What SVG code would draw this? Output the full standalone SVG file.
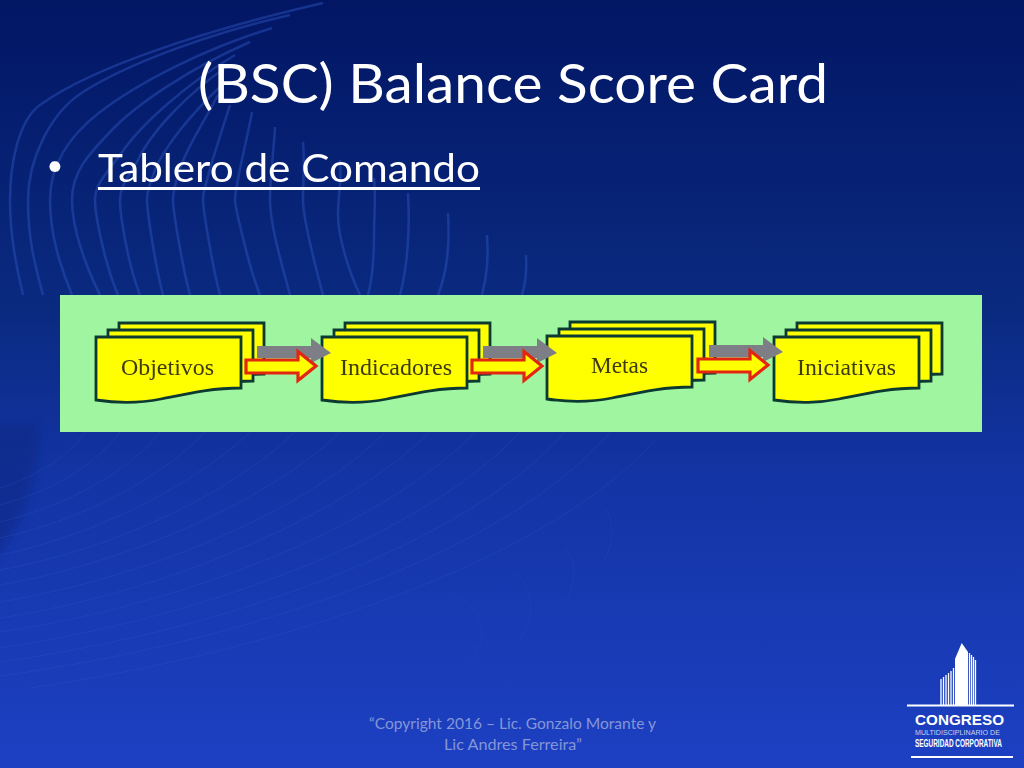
<svg xmlns="http://www.w3.org/2000/svg" xmlns:xlink="http://www.w3.org/1999/xlink" width="1024" height="768" viewBox="0 0 1024 768">
<style>
.strand{fill:none;stroke:#2a4fb8;stroke-width:2.6;opacity:.5}
.fan{fill:none;stroke:#3a62cf;stroke-width:1;opacity:.2}
.arc{fill:none;stroke:#3a62cf;stroke-width:1;opacity:.14}
.sans{font-family:Lato,"Open Sans",sans-serif;fill:#fff}
.lbl{font-family:"Liberation Serif",serif;font-size:23.5px;fill:#3d3a12}
.card{fill:#ff0;stroke:#0c3a33;stroke-width:2.8;stroke-linejoin:miter}
.grey{fill:#7e7e86}
.red{fill:#ff0;stroke:#e2260f;stroke-width:3.2;stroke-linejoin:miter}
.logo{font-family:"Liberation Sans",sans-serif;fill:#fff}
.rib{stroke:#fff;stroke-width:1.3}
</style>
<defs>
<linearGradient id="bg" x1="0" y1="0" x2="0" y2="1">
<stop offset="0" stop-color="#021664"/>
<stop offset=".4" stop-color="#0a2a80"/>
<stop offset=".62" stop-color="#1334a4"/>
<stop offset="1" stop-color="#1d40c3"/>
</linearGradient>
<filter id="soft" filterUnits="userSpaceOnUse" x="-20" y="-20" width="1064" height="808"><feGaussianBlur stdDeviation=".7"/></filter>
<filter id="softer" filterUnits="userSpaceOnUse" x="-60" y="380" width="160" height="240"><feGaussianBlur stdDeviation="5"/></filter>
<path id="sheet" class="card" d="M0,0H145V51C115,51 90,57 65,62C45,66 20,66 0,63Z"/>
<g id="stack">
<use xlink:href="#sheet" href="#sheet" x="23" y="-14"/>
<use xlink:href="#sheet" href="#sheet" x="12" y="-7"/>
<use xlink:href="#sheet" href="#sheet"/>
</g>
<g id="flow">
<path class="grey" d="M257,346H311V338L331,353L311,363V358H257Z"/>
<path class="red" d="M246,360H298V351.5L316,366L298,380.5V373H246Z"/>
</g>
</defs>
<rect width="1024" height="768" fill="url(#bg)"/>
<path d="M-20,425H38C38,480 25,530 -20,575Z" fill="#0a2680" opacity=".5" filter="url(#softer)"/>
<g id="background-strands" filter="url(#soft)">
<path class="strand" d="M323,3C215,28 95,65 40,105C18,121 10,165 10,200S16,265 23,295"/>
<path class="strand" d="M290,15C215,32 130,62 83,92C50,113 28,160 28,200S35,265 43,295"/>
<path class="strand" d="M272,28C200,50 135,85 100,112C70,135 50,165 50,200S60,265 72,295"/>
<path class="strand" d="M250,42C190,68 135,105 110,132C88,155 72,172 72,200S85,265 100,295"/>
<path class="strand" d="M235,55C185,85 140,125 120,155C105,175 95,185 95,200S105,265 118,295"/>
<path class="strand" d="M225,68C190,92 152,130 138,160C130,175 120,185 120,200S128,265 140,295"/>
<path class="strand" d="M222,85C195,110 165,145 155,170C151,180 147,190 147,200S155,265 163,295"/>
<path class="strand" d="M218,95C205,120 185,150 178,175C176,183 173,190 173,200S182,265 190,295"/>
<path class="strand" d="M230,105C222,130 212,160 207,180C205,188 203,192 203,200S212,265 220,295"/>
<path class="strand" d="M252,112C248,135 240,165 237,185C236,190 235,195 235,200S248,265 260,295"/>
<path class="strand" d="M275,127C274,150 270,175 270,200S282,265 290,295"/>
<path class="strand" d="M303,142C305,165 303,180 303,200S315,265 323,295"/>
<path class="strand" d="M340,160C342,180 338,195 338,215S348,270 360,295" opacity=".4"/>
<path class="strand" d="M374,178C376,200 374,215 374,235S372,280 368,295" opacity=".4"/>
<path class="strand" d="M408,193C410,225 408,265 400,295" opacity=".35"/>
<path class="strand" d="M448,213C450,245 446,275 438,295" opacity=".3"/>
<path class="strand" d="M487,235C489,260 486,280 482,295" opacity=".25"/>
<path class="strand" d="M526,255C527,270 525,285 522,295" opacity=".2"/>
</g>
<g id="background-fan" filter="url(#soft)">
<path class="fan" d="M85,432C70,455 40,475 0,488"/>
<path class="fan" d="M120,432C95,465 55,490 0,505"/>
<path class="fan" d="M160,432C130,470 70,505 0,522"/>
<path class="fan" d="M205,432C165,475 85,520 0,538"/>
<path class="fan" d="M250,432C200,480 100,535 0,555"/>
<path class="fan" d="M295,432C235,490 120,548 0,570"/>
<path class="fan" d="M340,432C275,495 140,560 0,585"/>
<path class="fan" d="M385,432C315,505 160,575 0,602"/>
<path class="fan" d="M430,432C350,510 180,590 0,618"/>
<path class="fan" d="M475,432C390,520 200,602 0,632"/>
<path class="fan" d="M520,432C430,530 220,615 0,648"/>
<path class="fan" d="M565,432C470,540 240,628 0,662"/>
<path class="fan" d="M610,432C510,550 260,640 0,676"/>
<path class="fan" d="M655,440C550,560 280,652 30,688"/>
<path class="arc" d="M607,510C616,530 612,548 603,562"/>
<path class="arc" d="M565,548C578,562 576,582 565,602"/>
<path class="arc" d="M515,572C535,590 535,615 520,640"/>
<path class="arc" d="M450,592C488,610 488,640 470,662"/>
</g>
<rect id="panel" x="60" y="295" width="922" height="137" fill="#a0f6a0"/>
<g id="title"><text class="sans" x="198" y="103" font-size="55" textLength="630" lengthAdjust="spacingAndGlyphs">(BSC) Balance Score Card</text></g>
<g id="bullet">
<text class="sans" x="46.5" y="175" font-size="29">•</text>
<text class="sans" x="98" y="182" font-size="39" textLength="382" lengthAdjust="spacingAndGlyphs">Tablero de Comando</text>
<rect x="98" y="187" width="382" height="3" fill="#fff"/>
</g>
<g id="node-objetivos" transform="translate(96,337)"><use xlink:href="#stack" href="#stack"/><text class="lbl" x="25" y="38" textLength="93" lengthAdjust="spacingAndGlyphs">Objetivos</text></g>
<g id="node-indicadores" transform="translate(322,337)"><use xlink:href="#stack" href="#stack"/><text class="lbl" x="18" y="38" textLength="112" lengthAdjust="spacingAndGlyphs">Indicadores</text></g>
<g id="node-metas" transform="translate(547,336)"><use xlink:href="#stack" href="#stack"/><text class="lbl" x="44" y="37" textLength="57" lengthAdjust="spacingAndGlyphs">Metas</text></g>
<g id="node-iniciativas" transform="translate(774,337)"><use xlink:href="#stack" href="#stack"/><text class="lbl" x="23" y="38" textLength="99" lengthAdjust="spacingAndGlyphs">Iniciativas</text></g>
<g id="connectors">
<use xlink:href="#flow" href="#flow"/>
<use xlink:href="#flow" href="#flow" x="226"/>
<use xlink:href="#flow" href="#flow" x="452" y="-1"/>
</g>
<g id="footer">
<text class="sans" x="369" y="729" font-size="16" textLength="287" lengthAdjust="spacingAndGlyphs" style="fill:#8496d6">“Copyright 2016 – Lic. Gonzalo Morante y</text>
<text class="sans" x="444" y="750" font-size="16" textLength="138" lengthAdjust="spacingAndGlyphs" style="fill:#8496d6">Lic Andres Ferreira”</text>
</g>
<g id="logo">
<path d="M955,705V659L961.7,643L968,652V705Z" fill="#fff"/>
<path class="rib" d="M941,705V679M943.5,705V677M946,705V675M948.5,705V673M951,705V671M953.5,705V668M969.5,705V653M971.5,705V655M973.5,705V657M975.5,705V660"/>
<rect x="907" y="704.5" width="107" height="2" fill="#fff"/>
<text class="logo" x="915" y="725" font-size="15" font-weight="700" textLength="89" lengthAdjust="spacingAndGlyphs">CONGRESO</text>
<text class="logo" x="915" y="734.5" font-size="7" textLength="85" lengthAdjust="spacingAndGlyphs" style="fill:#c8d2f0">MULTIDISCIPLINARIO DE</text>
<text class="logo" transform="translate(915,747) scale(.56,1)" font-size="11.5" font-weight="700">SEGURIDAD CORPORATIVA</text>
<rect x="911" y="756" width="102" height="2" fill="#fff"/>
</g>
</svg>
